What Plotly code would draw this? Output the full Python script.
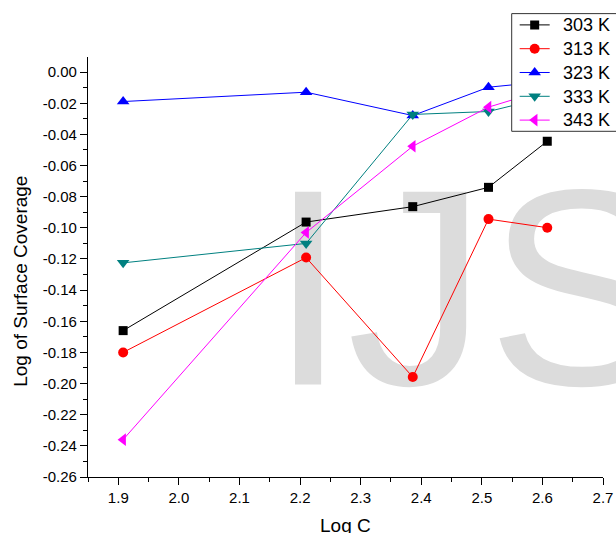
import plotly.graph_objects as go

log_c = [1.908, 2.210, 2.386, 2.511, 2.608]
series_names = ["303 K", "313 K", "323 K", "333 K", "343 K"]
k303 = [-0.166, -0.0963, -0.0864, -0.0740, -0.0444]
k313 = [-0.180, -0.1191, -0.1958, -0.0944, -0.0999]
k323 = [-0.0189, -0.0129, -0.0279, -0.0097, -0.006]
k333 = [-0.1225, -0.1100, -0.0272, -0.0253, -0.016]
k343 = [-0.236, -0.103, -0.0476, -0.0225, -0.011]

x_ticks = [1.9, 2.0, 2.1, 2.2, 2.3, 2.4, 2.5, 2.6, 2.7]
y_ticks = [0.00, -0.02, -0.04, -0.06, -0.08, -0.10, -0.12, -0.14, -0.16,
           -0.18, -0.20, -0.22, -0.24, -0.26]

FONT = "Liberation Sans, Arial, sans-serif"

styles = [
    ("#000000", "square", 9),
    ("#ff0000", "circle", 10),
    ("#0000ff", "triangle-up", 11),
    ("#008080", "triangle-down", 11),
    ("#ff00ff", "triangle-left", 11),
]

# legend text rows (paper y) for the legend labels drawn as annotations
legend_rows_y = [1.0755, 1.0183, 0.9619, 0.9048, 0.8510]

fig = go.Figure()

# watermark text (behind the data)
fig.add_trace(go.Scatter(
    x=[2.149], y=[-0.1556], mode="text", text=["IJS"],
    textposition="middle right", cliponaxis=False, showlegend=False,
    hoverinfo="skip",
    textfont=dict(family=FONT, size=280, color="#dcdcdc"),
))

for i, (name, vals, (col, sym, sz)) in enumerate(zip(series_names, [k303, k313, k323, k333, k343], styles)):
    fig.add_trace(go.Scatter(
        x=log_c, y=vals, mode="lines+markers", name="\u00a0" * (i + 1),
        hovertext=name, hoverinfo="x+y+text",
        line=dict(color=col, width=1),
        marker=dict(color=col, symbol=sym, size=sz, line=dict(width=0)),
        cliponaxis=False,
    ))

annotations = [
    dict(text="Log C", xref="paper", yref="paper", x=0.5, y=-0.1145,
         xanchor="center", yanchor="middle", showarrow=False,
         font=dict(family=FONT, size=19, color="black")),
    dict(text="Log of Surface Coverage", xref="paper", yref="paper", x=-0.130, y=0.4648,
         xanchor="center", yanchor="middle", textangle=-90, showarrow=False,
         font=dict(family=FONT, size=19, color="black")),
]
for name, ry in zip(series_names, legend_rows_y):
    annotations.append(dict(text=name, xref="paper", yref="paper", x=0.9184, y=ry,
                            xanchor="left", yanchor="middle", showarrow=False,
                            font=dict(family=FONT, size=18, color="black")))

# legend frame (white, bordered) drawn above the data, under the legend items
legend_frame = dict(type="rect", xref="paper", yref="paper",
                    x0=0.8227, x1=1.06, y0=0.8231, y1=1.1033,
                    fillcolor="white", line=dict(color="#333333", width=1), layer="above")

fig.update_layout(
    width=616, height=533,
    margin=dict(l=88, r=13, t=57, b=56, autoexpand=False),
    paper_bgcolor="white", plot_bgcolor="white",
    font=dict(family=FONT, size=15, color="black"),
    showlegend=True,
    legend=dict(
        x=0.8285, y=0.9631, xanchor="left", yanchor="middle",
        bgcolor="rgba(0,0,0,0)", borderwidth=0,
        font=dict(family=FONT, size=16, color="rgba(0,0,0,0)"),
        tracegroupgap=0,
    ),
    shapes=[legend_frame],
    xaxis=dict(
        range=[1.85, 2.7], tickvals=x_ticks, ticktext=[f"{v:.1f}" for v in x_ticks],
        showgrid=False, zeroline=False, showline=True, linecolor="black", linewidth=1.3,
        ticks="outside", ticklen=7, tickwidth=1.3, tickcolor="black",
        minor=dict(dtick=0.05, tick0=1.85, ticks="outside", ticklen=4, tickwidth=1.3, tickcolor="black", showgrid=False),
        tickfont=dict(size=15),
    ),
    yaxis=dict(
        range=[-0.26, 0.0097], tickvals=y_ticks, ticktext=[f"{v:.2f}" if v != 0 else "0.00" for v in y_ticks],
        showgrid=False, zeroline=False, showline=True, linecolor="black", linewidth=1.3,
        ticks="outside", ticklen=7, tickwidth=1.3, tickcolor="black",
        minor=dict(dtick=0.01, tick0=0, ticks="outside", ticklen=4, tickwidth=1.3, tickcolor="black", showgrid=False),
        tickfont=dict(size=15),
    ),
    annotations=annotations,
)

fig.write_html(
    "out.html",
    config={"displayModeBar": False},
    post_script="document.body.style.margin='0';document.body.style.overflow='hidden';"
                "document.documentElement.style.overflow='hidden';",
)
